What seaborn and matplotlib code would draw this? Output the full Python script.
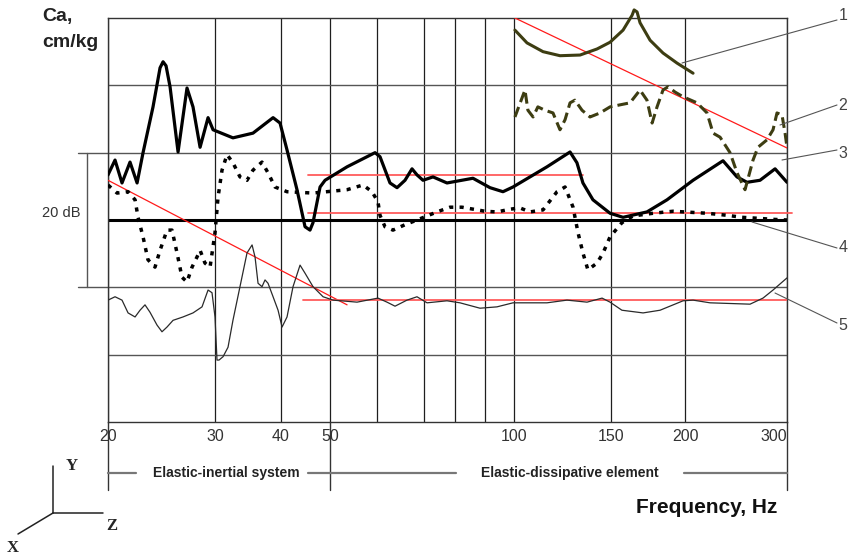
import matplotlib
matplotlib.use("Agg")
import numpy as np
import matplotlib.pyplot as plt
import seaborn as sns
from matplotlib.ticker import NullLocator

# ---------------- data (frequency in Hz, level in dB) ----------------
tick_freqs = [20, 30, 40, 50, 100, 150, 200, 300]
tick_labels = ["20", "30", "40", "50", "100", "150", "200", "300"]
grid_freqs = [20, 30, 40, 50, 60, 70, 80, 90, 100, 150, 200, 300]
grid_levels = [10, 20, 30, 40, 50]

# curve 1 (olive, solid)
f1 = [100.4, 105.6, 112.9, 121.2, 131.8, 141.5, 149.4, 157.2, 162.8, 164.1,
      166.0, 167.9, 174.6, 183.6, 193.9, 206.5]
v1 = [58.2, 56.3, 55.0, 54.4, 54.5, 55.4, 56.4, 58.2, 60.4, 61.2,
      60.9, 59.3, 56.7, 54.8, 53.3, 51.8]

# curve 2 (olive, dashed)
f2 = [100.4, 104.7, 106.0, 108.3, 110.5, 113.8, 117.7, 121.2, 123.8, 126.4,
      129.0, 132.9, 137.4, 143.3, 149.4, 155.3, 161.5, 167.9, 172.5, 176.0,
      179.4, 183.6, 187.3, 192.4, 198.5, 209.8, 218.3, 223.6, 229.9, 239.2,
      246.0, 253.9, 262.1, 267.3, 277.0, 283.8, 288.3, 294.1, 297.7, 300.0]
v2 = [45.3, 49.3, 46.3, 45.3, 46.8, 46.3, 45.9, 43.4, 44.9, 47.4,
      47.8, 46.3, 45.3, 45.9, 46.8, 47.1, 47.4, 49.3, 47.8, 44.4,
      46.8, 49.3, 49.8, 49.0, 48.3, 47.4, 45.9, 42.9, 42.3, 40.0,
      37.0, 34.5, 38.9, 40.8, 41.9, 43.4, 45.9, 45.6, 42.9, 40.8]

# curve 3 (thick black)
f3 = [20.00, 20.54, 21.09, 21.74, 22.33, 22.84, 23.72, 24.36, 24.64, 24.92,
      25.30, 26.08, 26.98, 27.60, 28.35, 29.22, 29.78, 32.44, 35.40, 38.64,
      39.83, 41.11, 43.02, 44.62, 45.64, 46.27, 47.78, 48.88, 53.42, 59.54,
      60.59, 62.61, 64.07, 65.77, 67.30, 68.41, 69.77, 72.77, 77.29, 85.85,
      91.66, 96.08, 99.64, 114.8, 126.4, 130.1, 133.4, 139.1, 149.4, 157.2,
      172.5, 186.5, 206.5, 232.6, 245.9, 255.9, 269.5, 286.1, 300.0]
v3 = [36.7, 38.9, 35.5, 38.6, 35.5, 40.0, 46.8, 52.6, 53.5, 52.9,
      49.8, 40.1, 49.6, 46.8, 40.8, 45.2, 43.4, 42.2, 42.9, 45.2,
      44.4, 40.4, 34.5, 29.0, 28.5, 29.6, 34.9, 35.9, 37.9, 40.0,
      39.4, 35.5, 34.8, 35.9, 37.6, 36.7, 35.9, 36.4, 35.5, 36.2,
      34.8, 34.2, 34.9, 37.9, 40.1, 38.5, 35.5, 33.0, 31.0, 30.4,
      31.2, 33.0, 35.9, 38.8, 36.4, 35.6, 35.9, 37.6, 35.6]

# curve 4 (dotted)
f4 = [20.00, 20.70, 21.58, 22.16, 22.41, 22.84, 23.27, 23.90, 24.36, 25.01,
      25.49, 25.98, 26.47, 26.98, 27.50, 28.02, 28.35, 28.88, 29.44, 30.00,
      30.40, 30.93, 31.61, 32.44, 33.45, 34.49, 35.40, 36.82, 37.80, 38.97,
      41.11, 46.27, 53.42, 56.83, 58.84, 60.19, 60.59, 61.59, 63.23, 65.77,
      68.41, 74.03, 78.30, 82.23, 90.00, 94.01, 98.56, 102.5, 106.9, 112.9,
      119.7, 123.8, 128.0, 130.7, 133.4, 136.2, 141.5, 145.1, 149.4, 156.5,
      163.4, 176.6, 190.9, 218.3, 236.3, 250.9, 262.1, 283.8, 300.0]
v4 = [35.2, 34.0, 34.2, 33.0, 30.4, 27.5, 24.1, 23.0, 25.5, 28.5,
      28.5, 25.1, 21.5, 20.8, 23.0, 24.5, 25.5, 23.6, 23.0, 28.1,
      33.4, 37.4, 39.7, 38.5, 36.4, 35.9, 37.4, 38.6, 37.0, 34.9,
      34.2, 34.0, 34.5, 35.2, 34.2, 32.7, 30.7, 29.0, 28.5, 29.3,
      30.0, 31.2, 31.9, 31.9, 31.3, 31.2, 31.6, 31.8, 31.2, 31.5,
      34.2, 34.9, 31.9, 28.1, 25.1, 22.6, 23.6, 25.1, 27.5, 29.6,
      30.6, 31.0, 31.3, 31.0, 30.7, 30.4, 30.3, 30.1, 30.0]

# curve 5 (thin)
f5 = [20.00, 20.54, 21.09, 21.58, 22.16, 22.58, 23.01, 23.45, 24.08, 24.54,
      25.01, 25.59, 26.57, 27.60, 28.56, 29.22, 29.66, 30.00, 30.26, 30.53,
      31.07, 31.75, 32.44, 33.45, 34.49, 35.26, 35.72, 36.19, 36.82, 37.31,
      37.80, 38.64, 39.49, 40.19, 41.11, 42.25, 43.62, 44.62, 46.27, 48.44,
      50.59, 55.52, 60.19, 62.00, 63.65, 66.20, 68.41, 70.92, 77.29, 81.59,
      88.25, 94.01, 99.64, 114.8, 124.8, 135.7, 144.5, 149.4, 156.5, 169.9,
      181.5, 198.5, 206.5, 220.9, 259.0, 272.7, 283.8, 300.0]
v5 = [18.1, 18.6, 18.1, 16.2, 15.6, 16.6, 17.4, 16.3, 14.4, 13.4,
      14.1, 15.1, 15.6, 16.2, 17.1, 19.6, 19.2, 15.6, 9.2, 9.2,
      9.7, 11.1, 15.1, 20.1, 25.1, 26.3, 24.5, 20.6, 20.1, 21.1,
      20.6, 18.6, 16.6, 14.1, 15.6, 20.1, 23.3, 22.1, 20.1, 18.6,
      18.1, 17.8, 18.4, 17.8, 17.2, 18.1, 18.6, 17.7, 18.0, 17.7,
      16.9, 17.1, 17.7, 17.7, 18.1, 17.8, 18.4, 17.8, 16.6, 16.2,
      16.6, 18.0, 18.1, 17.7, 17.5, 18.4, 19.6, 21.4]

# red reference lines
red_top_f, red_top_v = [100.4, 300.0], [60.0, 40.7]
red_left_f, red_left_v = [20.0, 53.42], [35.9, 17.4]
red_h1_f, red_h1_v = [45.22, 133.4], [36.7, 36.7]
red_h2_f, red_h2_v = [45.22, 306.1], [31.0, 31.0]
red_h3_f, red_h3_v = [44.21, 300.0], [18.1, 18.1]
base_f, base_v = [20.0, 300.0], [30.0, 30.0]

curve_labels = ["1", "2", "3", "4", "5"]

# hand-drawn frequency grid of the original: relative position of each grid line
cal_freqs = [20, 30, 40, 50, 60, 70, 80, 90, 100, 150, 200, 300]
cal_pos = [0.0, 0.1576, 0.2548, 0.3270, 0.3962, 0.4654, 0.5110, 0.5552,
           0.5979, 0.7408, 0.8498, 1.0]

# ---------------- scale ----------------
_lf = np.log10(cal_freqs)
_lf_ext = np.concatenate([[_lf[0] - 1.0], _lf, [_lf[-1] + 1.0]])
_s0 = (cal_pos[1] - cal_pos[0]) / (_lf[1] - _lf[0])
_s1 = (cal_pos[-1] - cal_pos[-2]) / (_lf[-1] - _lf[-2])
_p_ext = np.concatenate([[cal_pos[0] - _s0], cal_pos, [cal_pos[-1] + _s1]])


def fwd(f):
    f = np.asarray(f, dtype=float)
    return np.interp(np.log10(np.maximum(f, 1e-6)), _lf_ext, _p_ext)


def inv(p):
    p = np.asarray(p, dtype=float)
    return 10 ** np.interp(p, _p_ext, _lf_ext)


# ---------------- figure ----------------
sns.set_style("white")
plt.rcParams["font.family"] = ["Liberation Sans", "DejaVu Sans"]

W, H = 848, 559
fig = plt.figure(figsize=(W / 100, H / 100), dpi=100)
ax = fig.add_axes([108 / W, 1 - 422 / H, 679 / W, 404 / H])
ax.set_xscale("function", functions=(fwd, inv))
ax.set_xlim(20, 300)
ax.set_ylim(0, 60)

for f in grid_freqs:
    ax.axvline(f, color="#1e1e1e", lw=0.9, zorder=1)
for d in grid_levels:
    ax.axhline(d, color="#555555", lw=1.0, zorder=1)
for s in ax.spines.values():
    s.set_color("#333333")
    s.set_linewidth(1.0)

ax.set_xticks(tick_freqs)
ax.set_xticklabels(tick_labels)
ax.xaxis.set_minor_locator(NullLocator())
ax.tick_params(axis="x", length=0, pad=5, labelsize=11.5, labelcolor="#333333")
ax.set_yticks([])
ax.get_xticklabels()[-1].set_horizontalalignment("right")


def draw(f, v, **kw):
    sns.lineplot(x=f, y=v, ax=ax, sort=False, estimator=None, legend=False, **kw)


olive = "#3d3d12"
draw(base_f, base_v, color="black", lw=2.2, zorder=2)
draw(red_top_f, red_top_v, color="#ff1a1a", lw=0.9, zorder=3)
draw(red_left_f, red_left_v, color="#ff1a1a", lw=0.9, zorder=3)
draw(red_h1_f, red_h1_v, color="#ff5c5c", lw=1.3, zorder=3)
draw(red_h2_f, red_h2_v, color="#ff5c5c", lw=1.3, zorder=3, clip_on=False)
draw(red_h3_f, red_h3_v, color="#ff5c5c", lw=1.3, zorder=3)

draw(f5, v5, color="#2a2a2a", lw=0.9, zorder=4)
draw(f4, v4, color="black", lw=2.5, linestyle=(0, (1.2, 1.8)), zorder=4)
draw(f3, v3, color="black", lw=2.3, zorder=5)
draw(f2, v2, color=olive, lw=2.2, linestyle=(0, (3.5, 1.7)), zorder=5)
draw(f1, v1, color=olive, lw=2.2, zorder=5, clip_on=False)

# 20 dB bracket
yt = ax.get_yaxis_transform()
for lev in (20, 40):
    ax.plot([-30 / 679, 0], [lev, lev], transform=yt, clip_on=False, color="#555555", lw=1.0)
ax.plot([-21 / 679, -21 / 679], [20, 40], transform=yt, clip_on=False, color="#555555", lw=1.0)
ax.text(-47 / 679, 31, "20 dB", transform=yt, ha="center", va="center",
        fontsize=10.5, color="#333333")

# extension of selected grid lines below the axis
xt = ax.get_xaxis_transform()
for f in (20, 50, 300):
    ax.plot([f, f], [0, -68 / 404], transform=xt, clip_on=False, color="#333333", lw=1.0)

# ---------------- overlay in pixel coordinates ----------------
ov = fig.add_axes([0, 0, 1, 1], zorder=5)
ov.set_xlim(0, W)
ov.set_ylim(H, 0)
ov.axis("off")

ov.text(42, 21, "Ca,", fontsize=14, fontweight="bold", color="#222222", va="baseline")
ov.text(42, 47, "cm/kg", fontsize=14, fontweight="bold", color="#222222", va="baseline")

leaders = [((682, 63), (837, 20)), ((780, 125), (837, 105)), ((782, 160), (837, 150)),
           ((752, 222), (837, 248)), ((775, 293), (837, 323))]
label_pos = [(843, 16), (843, 106), (843, 153), (843, 248), (843, 325)]
for (p0, p1), lab, (lx, ly) in zip(leaders, curve_labels, label_pos):
    ov.plot([p0[0], p1[0]], [p0[1], p1[1]], color="#555555", lw=0.8)
    ov.text(lx, ly, lab, fontsize=11.5, color="#444444", ha="center", va="center")

for x0, x1 in [(108, 136), (308, 456), (684, 787)]:
    ov.plot([x0, x1], [473, 473], color="#777777", lw=1.6)
ov.text(226, 473, "Elastic-inertial system", fontsize=10, fontweight="bold",
        color="#222222", ha="center", va="center")
ov.text(570, 473, "Elastic-dissipative element", fontsize=10, fontweight="bold",
        color="#222222", ha="center", va="center")
ov.text(707, 513, "Frequency, Hz", fontsize=15, fontweight="bold", color="#111111",
        ha="center", va="baseline")

# coordinate system icon
ov.plot([53, 53], [466, 513], color="#222222", lw=1.1)
ov.plot([53, 103], [513, 513], color="#222222", lw=1.1)
ov.plot([53, 18], [513, 534], color="#222222", lw=1.1)
serif = ["Liberation Serif", "DejaVu Serif"]
ov.text(72, 466, "Y", family=serif, fontsize=12, fontweight="bold", ha="center", va="center")
ov.text(112, 526, "Z", family=serif, fontsize=12, fontweight="bold", ha="center", va="center")
ov.text(13, 548, "X", family=serif, fontsize=12, fontweight="bold", ha="center", va="center")

fig.savefig("out.png", dpi=100)
